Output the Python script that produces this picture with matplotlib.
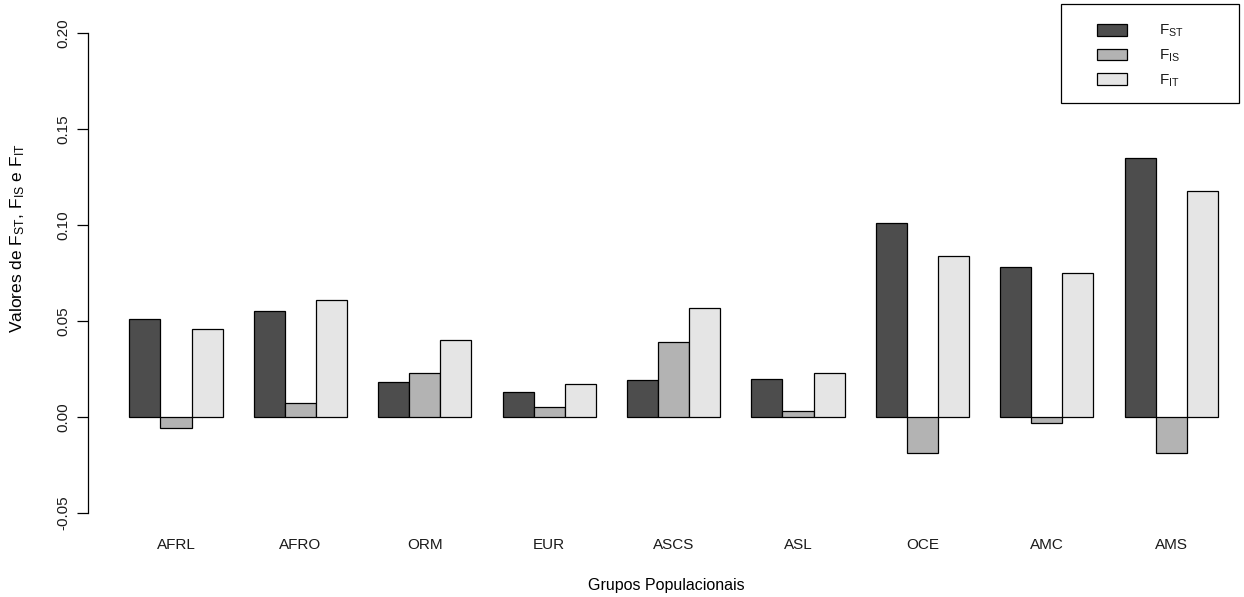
import matplotlib.pyplot as plt
from matplotlib.patches import Patch, Rectangle

plt.rcParams.update({"font.family": "Liberation Sans", "mathtext.fontset": "custom",
                     "mathtext.rm": "Liberation Sans", "mathtext.it": "Liberation Sans",
                     "text.color": "#1a1a1a", "ytick.color": "black",
                     "ytick.labelcolor": "#1a1a1a", "xtick.labelcolor": "#1a1a1a"})

GROUPS = ["AFRL", "AFRO", "ORM", "EUR", "ASCS", "ASL", "OCE", "AMC", "AMS"]
FST = [0.051, 0.055, 0.018, 0.013, 0.019, 0.020, 0.101, 0.078, 0.135]
FIS = [-0.006, 0.007, 0.023, 0.005, 0.039, 0.003, -0.019, -0.003, -0.019]
FIT = [0.046, 0.061, 0.040, 0.017, 0.057, 0.023, 0.084, 0.075, 0.118]
SERIES_LABELS = [r"F$_{\mathregular{ST}}$", r"F$_{\mathregular{IS}}$", r"F$_{\mathregular{IT}}$"]
COLORS = ["#4d4d4d", "#b3b3b3", "#e5e5e5"]

W, H = 1244, 597
FS = 11
fig = plt.figure(figsize=(W / 100, H / 100), dpi=100)
# plot region in pixels: left 88, right at figure edge, top 14, bottom 532
ax = fig.add_axes([88 / W, (H - 532) / H, (W - 88) / W, (532 - 14) / H])

# barplot(beside=TRUE) layout: one bar-width gap before every group
for g in range(len(GROUPS)):
    for s, vals in enumerate((FST, FIS, FIT)):
        left = 1 + 4 * g + s
        ax.bar(left, vals[g], width=1, align="edge", color=COLORS[s],
               edgecolor="black", linewidth=0.9)

centers = [1 + 4 * g + 1.5 for g in range(len(GROUPS))]
x0 = -0.33
ax.set_xlim(x0, x0 + (W - 88) / 31.1)
ax.set_ylim(-0.06, 0.21)

ax.set_xticks(centers)
ax.set_xticklabels(GROUPS, fontsize=FS)
ax.tick_params(axis="x", length=0, pad=4)
yt = [-0.05, 0.0, 0.05, 0.10, 0.15, 0.20]
ax.set_yticks(yt)
ax.set_yticklabels([f"{v:.2f}" for v in yt], rotation=90, va="center", fontsize=FS)
ax.tick_params(axis="y", length=8, width=0.9, pad=5)

for side in ("top", "right", "bottom"):
    ax.spines[side].set_visible(False)
ax.spines["left"].set_bounds(-0.05, 0.20)
ax.spines["left"].set_linewidth(0.9)

ax.set_xlabel("Grupos Populacionais", fontsize=11.5, labelpad=19)
ax.set_ylabel(r"Valores de F$_{\mathregular{ST}}$, F$_{\mathregular{IS}}$ e F$_{\mathregular{IT}}$",
              fontsize=12.5)
ax.yaxis.set_label_coords(-(88 - 27) / (W - 88), (532 - 238) / 518)

# legend frame drawn separately so the padding can be uneven
fig.add_artist(Rectangle((1061 / W, 1 - 103 / H), (1239 - 1061) / W, (103 - 4) / H,
                         transform=fig.transFigure, facecolor="none",
                         edgecolor="black", linewidth=0.9))
handles = [Patch(facecolor=c, edgecolor="black", linewidth=0.9) for c in COLORS]
fig.legend(handles, SERIES_LABELS, loc="upper left",
           bbox_to_anchor=(1097 / W, 1 - 23 / H), fontsize=FS,
           frameon=False, handlelength=1.95, handleheight=0.8,
           labelspacing=0.55, borderpad=0, handletextpad=2.1, borderaxespad=0)

fig.savefig("out.png", dpi=100)
